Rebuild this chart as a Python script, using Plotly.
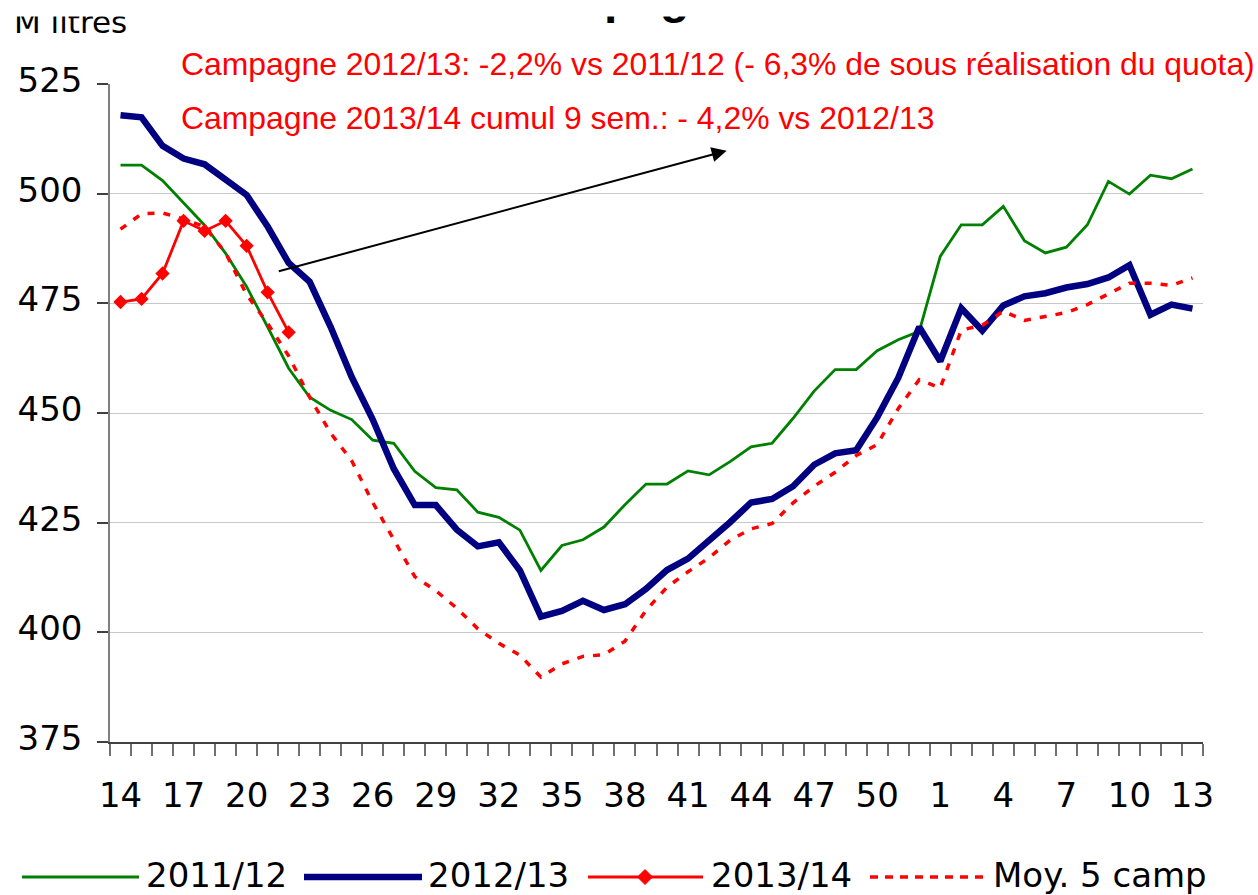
import plotly.graph_objects as go

# ---------------- data ----------------
weeks = ["14", "15", "16", "17", "18", "19", "20", "21", "22", "23", "24", "25", "26",
         "27", "28", "29", "30", "31", "32", "33", "34", "35", "36", "37", "38", "39",
         "40", "41", "42", "43", "44", "45", "46", "47", "48", "49", "50", "51", "52",
         "1", "2", "3", "4", "5", "6", "7", "8", "9", "10", "11", "12", "13"]

shown_weeks = ["14", "17", "20", "23", "26", "29", "32", "35", "38", "41", "44", "47",
               "50", "1", "4", "7", "10", "13"]

camp_2011_12 = [506.5, 506.5, 503.0, 497.9, 492.8, 486.4, 478.8, 469.6, 460.2, 453.6,
                450.6, 448.5, 443.8, 443.1, 436.7, 433.0, 432.5, 427.4, 426.2, 423.3,
                414.1, 419.8, 421.1, 424.0, 429.1, 433.8, 433.8, 436.8, 435.9, 438.9,
                442.3, 443.1, 448.8, 455.0, 459.9, 459.9, 464.2, 466.7, 468.6, 485.7,
                492.9, 492.9, 497.1, 489.3, 486.5, 487.8, 492.9, 502.8, 499.9, 504.2,
                503.4, 505.6]

camp_2012_13 = [517.9, 517.4, 510.9, 508.0, 506.7, 503.1, 499.7, 492.5, 484.2, 479.9,
                469.6, 458.2, 448.5, 437.3, 429.0, 429.0, 423.4, 419.6, 420.5, 414.1,
                403.6, 404.9, 407.2, 405.1, 406.4, 409.9, 414.2, 416.8, 420.8, 425.1,
                429.6, 430.4, 433.3, 438.2, 440.8, 441.5, 449.0, 458.0, 469.6, 461.8,
                473.9, 468.8, 474.5, 476.6, 477.3, 478.6, 479.4, 480.9, 483.7, 472.4,
                474.7, 473.8]

camp_2013_14 = [475.3, 476.0, 481.8, 493.8, 491.5, 493.8, 488.1, 477.5, 468.4]

moy_5_camp = [491.9, 495.4, 495.6, 494.2, 492.5, 486.5, 477.0, 470.4, 463.0, 453.6,
              445.4, 439.1, 429.6, 421.0, 412.7, 409.5, 405.5, 400.8, 397.5, 394.8,
              389.8, 392.8, 394.5, 394.9, 398.0, 405.0, 410.3, 413.8, 417.0, 421.0,
              423.6, 424.8, 429.5, 433.3, 436.5, 440.3, 442.8, 451.0, 457.6, 455.7,
              468.9, 470.0, 473.2, 471.1, 472.0, 472.9, 474.7, 477.1, 479.6, 479.6,
              479.1, 480.8]

y_ticks = [375, 400, 425, 450, 475, 500, 525]

series_names = ["2011/12", "2012/13", "2013/14", "Moy. 5 camp"]

# ---------------- layout helpers ----------------
FIG_W, FIG_H = 1258, 895
ML, MR, MT, MB = 110, 55, 84, 153
PW = FIG_W - ML - MR
PH = FIG_H - MT - MB


def px(x):
    return (x - ML) / PW


def py(y):
    return (FIG_H - MB - y) / PH


GREEN = "#008000"
BLUE = "#000080"
RED = "#FF0000"
TICK_FONT = dict(family="DejaVu Sans", size=34, color="black")
RED_FONT = dict(family="Liberation Sans, Arial", size=31.9, color=RED)

fig = go.Figure()
fig.add_trace(go.Scatter(x=weeks, y=camp_2011_12, name=series_names[0], mode="lines",
                         line=dict(color=GREEN, width=2.8)))
fig.add_trace(go.Scatter(x=weeks, y=camp_2012_13, name=series_names[1], mode="lines",
                         line=dict(color=BLUE, width=6.5)))
fig.add_trace(go.Scatter(x=weeks, y=moy_5_camp, name=series_names[3], mode="lines",
                         line=dict(color=RED, width=3.5, dash="7px,9px")))
fig.add_trace(go.Scatter(x=weeks[:len(camp_2013_14)], y=camp_2013_14, name=series_names[2],
                         mode="lines+markers", line=dict(color=RED, width=2.8),
                         marker=dict(symbol="diamond", size=11, color=RED)))

annotations = []
shapes = []

# title and unit label at the very top (partly hidden by the white top band, as in the source)
annotations.append(dict(text="<b>Campagne</b>", x=px(622), y=py(-3), xref="paper", yref="paper",
                        xanchor="center", yanchor="middle", showarrow=False, borderpad=0,
                        font=dict(family="Liberation Sans, Arial", size=48, color="black")))
annotations.append(dict(text="M litres", x=px(13), y=py(22.3), xref="paper", yref="paper",
                        xanchor="left", yanchor="middle", showarrow=False, borderpad=0,
                        font=dict(family="DejaVu Sans", size=31, color="black")))
# white band over the top edge
annotations.append(dict(text=" ", x=px(0), y=py(16.5), xref="paper", yref="paper",
                        xanchor="left", yanchor="bottom", showarrow=False, borderpad=0,
                        width=FIG_W, height=40, bgcolor="white",
                        font=dict(size=8, color="white")))

# red comments
annotations.append(dict(text="Campagne 2012/13: -2,2% vs 2011/12 (- 6,3% de sous réalisation du quota)",
                        x=px(180), y=py(64), xref="paper", yref="paper", xanchor="left",
                        yanchor="middle", showarrow=False, borderpad=0, font=RED_FONT))
annotations.append(dict(text="Campagne 2013/14 cumul 9 sem.: - 4,2% vs 2012/13",
                        x=px(180), y=py(118), xref="paper", yref="paper", xanchor="left",
                        yanchor="middle", showarrow=False, borderpad=0, font=RED_FONT))

# arrow
annotations.append(dict(text="", x=px(726.7), y=py(150.7), xref="paper", yref="paper",
                        ax=277.3 - 726.7, ay=271.7 - 150.7, axref="pixel", ayref="pixel",
                        showarrow=True, arrowhead=2, arrowsize=1.5, arrowwidth=2,
                        arrowcolor="black", standoff=0))

# manual legend
LEG_Y = 877
legend_items = [
    dict(x0=22, x1=139, color=GREEN, width=2.8, dash="solid", tx=145, label=series_names[0]),
    dict(x0=304, x1=422, color=BLUE, width=6.5, dash="solid", tx=427, label=series_names[1]),
    dict(x0=588, x1=703, color=RED, width=2.8, dash="solid", tx=710, label=series_names[2]),
    dict(x0=870, x1=986, color=RED, width=3.5, dash="8px,7px", tx=992, label=series_names[3]),
]
for it in legend_items:
    shapes.append(dict(type="line", xref="paper", yref="paper", x0=px(it["x0"]), x1=px(it["x1"]),
                       y0=py(LEG_Y), y1=py(LEG_Y),
                       line=dict(color=it["color"], width=it["width"], dash=it["dash"])))
    annotations.append(dict(text=it["label"], x=px(it["tx"]), y=py(LEG_Y - 2), xref="paper",
                            yref="paper", xanchor="left", yanchor="middle", showarrow=False,
                            borderpad=0, font=TICK_FONT))

# legend diamond
dcx, dcy, dr = 645, LEG_Y, 7.5
diamond_path = "M {} {} L {} {} L {} {} L {} {} Z".format(
    px(dcx - dr), py(dcy), px(dcx), py(dcy - dr), px(dcx + dr), py(dcy), px(dcx), py(dcy + dr))
shapes.append(dict(type="path", xref="paper", yref="paper", path=diamond_path,
                   fillcolor=RED, line=dict(color=RED, width=1)))

fig.update_layout(
    width=FIG_W, height=FIG_H,
    margin=dict(l=ML, r=MR, t=MT, b=MB, pad=0),
    paper_bgcolor="white", plot_bgcolor="white",
    showlegend=False,
    annotations=annotations,
    shapes=shapes,
    xaxis=dict(type="category", categoryorder="array", categoryarray=weeks,
               tickmode="array", tickvals=weeks,
               ticktext=[w if w in shown_weeks else "" for w in weeks],
               tickangle=0,
               tickson="boundaries", ticks="outside", ticklen=12, tickwidth=1.5,
               tickcolor="#707070", showline=True, linecolor="#404040", linewidth=1.5,
               showgrid=False, zeroline=False, tickfont=TICK_FONT, ticklabelstandoff=22,
               range=[-0.5, len(weeks) - 0.5]),
    yaxis=dict(range=[375, 525], tickmode="array", tickvals=y_ticks, ticks="outside",
               ticklen=11, tickwidth=1.5, tickcolor="#404040", showline=True,
               linecolor="#808080", linewidth=1.5, gridcolor="#C8C8C8", gridwidth=1.3,
               zeroline=False, tickfont=TICK_FONT, ticklabelstandoff=8, ticklabelshift=-4),
)

fig.write_html("out.html", config={"displayModeBar": False},
               post_script="document.body.style.margin='0';")
